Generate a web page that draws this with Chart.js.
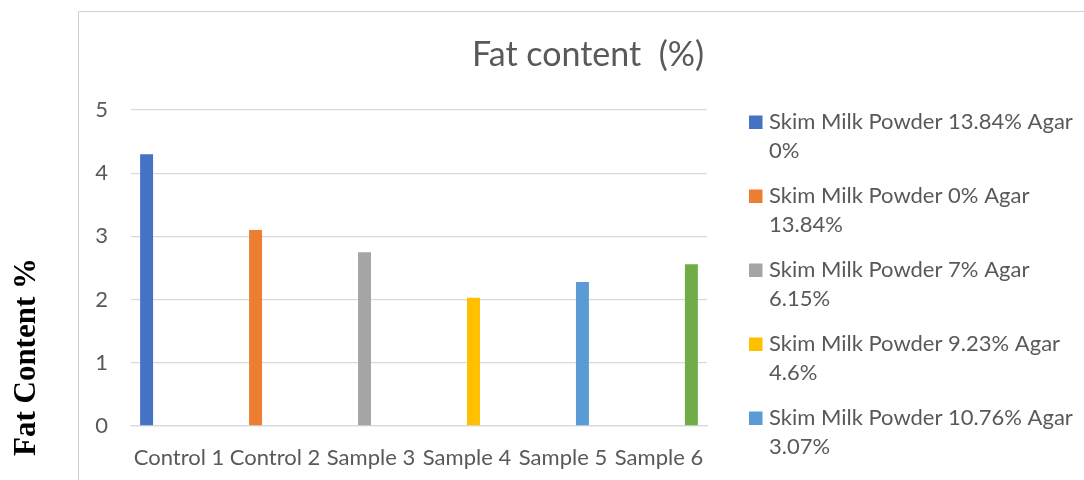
<!DOCTYPE html>
<html>
<head>
<meta charset="utf-8">
<title>Fat content (%)</title>
<script src="https://cdn.jsdelivr.net/npm/chart.js@4.4.0/dist/chart.umd.min.js"></script>
<style>
  html, body { margin: 0; padding: 0; background: #ffffff; overflow: hidden; }
  #wrap { position: relative; width: 1084px; height: 480px; }
</style>
</head>
<body>
<div id="wrap"><canvas id="fatChart"></canvas></div>
<script>
// Samples on the category axis
const categories = ['Control 1', 'Control 2', 'Sample 3', 'Sample 4', 'Sample 5', 'Sample 6'];
// Measured fat content (%) for each sample
const fatValues = [4.30, 3.10, 2.75, 2.03, 2.28, 2.56];
// Formulation of each sample (one series per sample)
const seriesNames = [
  'Skim Milk Powder 13.84% Agar 0%',
  'Skim Milk Powder 0% Agar 13.84%',
  'Skim Milk Powder 7% Agar 6.15%',
  'Skim Milk Powder 9.23% Agar 4.6%',
  'Skim Milk Powder 10.76% Agar 3.07%',
  'Skim Milk Powder 12.3% Agar 1.54%'
];
const seriesColors = ['#4472C4', '#ED7D31', '#A5A5A5', '#FFC000', '#5B9BD5', '#70AD47'];
// Value axis ticks
const yTicks = [0, 1, 2, 3, 4, 5];

const chartTitle = 'Fat content  (%)';
const yAxisTitle = 'Fat Content %';

const UI_FONT = 'Lato, "Noto Sans", sans-serif';
const TEXT_GREY = '#595959';
const LINE_GREY = '#d9d9d9';

// Each series carries a value only in its own category, so bars keep their slot in the group
const datasets = seriesNames.map((name, i) => ({
  label: name,
  data: categories.map((_, j) => (j === i ? fatValues[i] : null)),
  backgroundColor: seriesColors[i],
  borderWidth: 0,
  categoryPercentage: 0.81,
  barPercentage: 1.0
}));

// Frame, headline, rotated value-axis caption and the wrapped legend on the right
const decorations = {
  id: 'decorations',
  beforeDraw(chart) {
    const ctx = chart.ctx;
    ctx.save();
    ctx.strokeStyle = '#d0d0d0';
    ctx.lineWidth = 1;
    ctx.beginPath();
    ctx.moveTo(78.5, chart.height);
    ctx.lineTo(78.5, 11.5);
    ctx.lineTo(chart.width, 11.5);
    ctx.stroke();
    ctx.restore();
  },
  afterDraw(chart) {
    const ctx = chart.ctx;
    ctx.save();

    // Headline
    ctx.fillStyle = TEXT_GREY;
    ctx.font = '34px ' + UI_FONT;
    ctx.textAlign = 'center';
    ctx.textBaseline = 'alphabetic';
    ctx.fillText(chartTitle, 588, 66);

    // Value-axis caption, reading bottom to top
    ctx.save();
    ctx.translate(35, 357);
    ctx.rotate(-Math.PI / 2);
    ctx.fillStyle = '#000000';
    ctx.font = 'bold 31px "Liberation Serif", "DejaVu Serif", serif';
    ctx.textAlign = 'center';
    ctx.textBaseline = 'alphabetic';
    ctx.fillText(yAxisTitle, 0, 0);
    ctx.restore();

    // Legend: one square plus two lines of text per series
    ctx.font = '22px ' + UI_FONT;
    ctx.textAlign = 'left';
    ctx.textBaseline = 'alphabetic';
    chart.data.datasets.forEach((ds, i) => {
      const base = 129 + i * 74;
      const cut = ds.label.lastIndexOf(' ');
      const lines = [ds.label.slice(0, cut), ds.label.slice(cut + 1)];
      ctx.fillStyle = ds.backgroundColor;
      ctx.fillRect(749, base - 13.5, 13.5, 13.5);
      ctx.fillStyle = TEXT_GREY;
      lines.forEach((t, k) => ctx.fillText(t, 769, base + k * 29));
    });

    ctx.restore();
  }
};

new Chart(document.getElementById('fatChart'), {
  type: 'bar',
  data: { labels: categories, datasets },
  plugins: [decorations],
  options: {
    responsive: true,
    maintainAspectRatio: false,
    animation: false,
    events: [],
    layout: { padding: { left: 79, top: 110, right: 377, bottom: 0 } },
    plugins: {
      legend: { display: false },
      title: { display: false },
      tooltip: { enabled: false }
    },
    scales: {
      x: {
        offset: true,
        grid: { display: false, drawTicks: false },
        border: { display: true, color: LINE_GREY, width: 1.3 },
        ticks: {
          color: TEXT_GREY,
          font: { family: UI_FONT, size: 22 },
          padding: 19,
          maxRotation: 0,
          autoSkip: false
        },
        afterFit(scale) { scale.height = 54; }
      },
      y: {
        min: yTicks[0],
        max: yTicks[yTicks.length - 1],
        afterBuildTicks(scale) { scale.ticks = yTicks.map(v => ({ value: v })); },
        grid: { color: LINE_GREY, lineWidth: 1.3, drawTicks: false },
        border: { display: false },
        ticks: {
          color: TEXT_GREY,
          font: { family: UI_FONT, size: 22 },
          padding: 23
        },
        afterFit(scale) { scale.width = 52; }
      }
    }
  }
});
</script>
</body>
</html>
